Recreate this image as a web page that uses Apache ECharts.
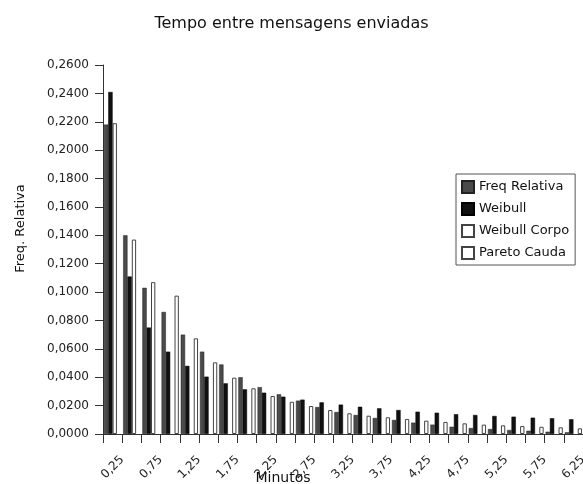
<!DOCTYPE html>
<html>
<head>
<meta charset="utf-8">
<script src="https://cdn.jsdelivr.net/npm/echarts@6/dist/echarts.min.js"></script>
<style>html,body{margin:0;padding:0;background:#fff;}#c{width:583px;height:484px;}</style>
</head>
<body>
<div id="c"></div>
<script>
// Bins of 0.25 minutes (bin start values)
var categories = ['0,00','0,25','0,50','0,75','1,00','1,25','1,50','1,75','2,00','2,25','2,50','2,75','3,00','3,25','3,50','3,75','4,00','4,25','4,50','4,75','5,00','5,25','5,50','5,75','6,00'];
var tickLabels = ['0,25','0,75','1,25','1,75','2,25','2,75','3,25','3,75','4,25','4,75','5,25','5,75','6,25'];
var freqRelativa = [0.218, 0.140, 0.103, 0.086, 0.070, 0.058, 0.049, 0.040, 0.033, 0.028, 0.0235, 0.019, 0.0155, 0.0134, 0.0113, 0.0099, 0.0080, 0.0066, 0.0051, 0.0042, 0.0035, 0.0028, 0.0023, 0.0016, 0.0012];
var weibull = [0.241, 0.111, 0.075, 0.058, 0.048, 0.0404, 0.0357, 0.0315, 0.0291, 0.0263, 0.0242, 0.0223, 0.0207, 0.0192, 0.0181, 0.0169, 0.0157, 0.0150, 0.0139, 0.0134, 0.0127, 0.0122, 0.0115, 0.0111, 0.0104];
var weibullCorpo = [0.219, 0.137, 0.107, null, null, null, null, null, null, null, null, null, null, null, null, null, null, null, null, null, null, null, null, null, null];
var paretoCauda = [null, null, null, 0.0975, 0.0674, 0.0505, 0.0397, 0.0322, 0.0268, 0.0227, 0.0197, 0.0169, 0.0146, 0.0129, 0.0118, 0.0106, 0.0094, 0.0085, 0.0075, 0.0066, 0.0061, 0.0056, 0.0051, 0.0047, 0.0040];

var FONT = 'DejaVu Sans';
var chart = echarts.init(document.getElementById('c'), null, {renderer: 'canvas'});
chart.setOption({
  animation: false,
  backgroundColor: '#fff',
  textStyle: {fontFamily: FONT},
  title: {
    text: 'Tempo entre mensagens enviadas',
    left: 'center', top: 11,
    textStyle: {fontFamily: FONT, fontSize: 16, fontWeight: 'normal', color: '#111'}
  },
  legend: {
    orient: 'vertical', left: 456, top: 174,
    borderColor: '#555', borderWidth: 1,
    padding: [6, 6, 5, 5],
    itemWidth: 12, itemHeight: 12, itemGap: 8, itemTextGap: 5,
    icon: 'rect',
    textStyle: {fontFamily: FONT, fontSize: 13, color: '#111'},
    data: ['Freq Relativa', 'Weibull', 'Weibull Corpo', 'Pareto Cauda']
  },
  grid: {left: 103, right: 0, top: 65, bottom: 50, containLabel: false, outerBoundsMode: 'none'},
  xAxis: [
    {type: 'category', data: categories, show: false, boundaryGap: true},
    {
      type: 'value', min: 0, max: 6.25, interval: 0.25, position: 'bottom',
      name: 'Minutos', nameLocation: 'middle', nameGap: 37, nameMoveOverlap: false,
      nameTextStyle: {fontFamily: FONT, fontSize: 14, color: '#111', padding: [0, 120, 0, 0]},
      axisLine: {show: true, lineStyle: {color: '#333', width: 1}},
      axisTick: {show: true, length: 9, lineStyle: {color: '#333'}},
      splitLine: {show: false},
      axisLabel: {
        rotate: 45, margin: 24, fontFamily: FONT, fontSize: 12, color: '#222',
        formatter: function (v) {
          var i = Math.round(v / 0.25);
          return (i % 2 === 1) ? (tickLabels[(i - 1) / 2] || '') : '';
        }
      }
    }
  ],
  yAxis: {
    type: 'value', min: 0, max: 0.26, interval: 0.02,
    name: 'Freq. Relativa', nameLocation: 'middle', nameGap: 76, nameMoveOverlap: false,
    nameTextStyle: {fontFamily: FONT, fontSize: 13, color: '#111', padding: [0, 0, 0, 42]},
    axisLine: {show: true, lineStyle: {color: '#333', width: 1}},
    axisTick: {show: true, length: 8, lineStyle: {color: '#333'}},
    splitLine: {show: false},
    axisLabel: {
      margin: 14, fontFamily: FONT, fontSize: 12, color: '#222',
      formatter: function (v) { return v.toFixed(4).replace('.', ','); }
    }
  },
  series: [
    {name: 'Freq Relativa', type: 'bar', xAxisIndex: 0, data: freqRelativa, barGap: '0%', barCategoryGap: '10%',
     itemStyle: {color: '#4a4a4a', borderColor: '#222', borderWidth: 0.5}},
    {name: 'Weibull', type: 'bar', xAxisIndex: 0, data: weibull,
     itemStyle: {color: '#111', borderColor: '#000', borderWidth: 0.5}},
    {name: 'Weibull Corpo', type: 'bar', xAxisIndex: 0, data: weibullCorpo,
     itemStyle: {color: '#fff', borderColor: '#444', borderWidth: 1}},
    {name: 'Pareto Cauda', type: 'bar', xAxisIndex: 0, data: paretoCauda,
     itemStyle: {color: '#fff', borderColor: '#444', borderWidth: 1}}
  ]
});
</script>
</body>
</html>
